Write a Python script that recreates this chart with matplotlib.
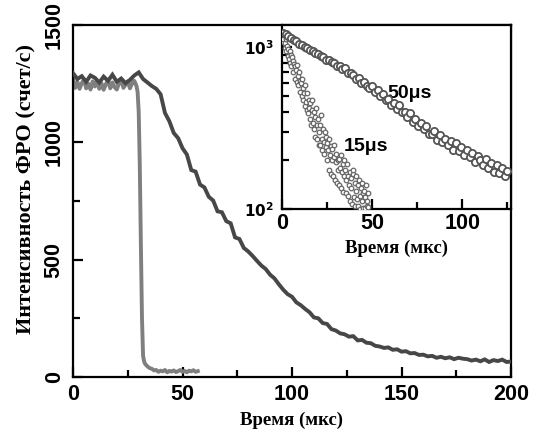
import numpy as np
import matplotlib
matplotlib.use("Agg")
import matplotlib.pyplot as plt
from matplotlib.ticker import MultipleLocator, FixedLocator, NullFormatter

# ---------------- data ----------------
# main plot: dark curve (sampled every 2 us from 0 to 200)
dark_t_step = 2.0
dark_vals = [
    1295, 1270, 1282, 1258, 1285, 1275, 1255, 1280, 1262, 1288,
    1258, 1272, 1252, 1266, 1285, 1298, 1270, 1255, 1240, 1228,
    1205, 1125, 1090, 1040, 1018, 975, 948, 882, 875, 820,
    808, 768, 752, 706, 702, 664, 655, 595, 588, 550,
    535, 516, 495, 475, 460, 436, 420, 395, 372, 353,
    342, 318, 306, 290, 276, 254, 250, 230, 226, 204,
    198, 186, 182, 172, 174, 156, 158, 146, 144, 133,
    130, 124, 126, 116, 118, 108, 110, 101, 102, 94,
    95, 88, 90, 82, 86, 80, 84, 76, 82, 78,
    76, 70, 74, 67, 75, 64, 72, 68, 74, 64,
    66,
]

# main plot: light curve
light_t = [0, 1, 2, 3, 4, 5, 6, 7, 8, 9, 10, 11, 12, 13, 14, 15, 16, 17, 18, 19,
           20, 21, 22, 23, 24, 25, 26, 27, 28, 29, 29.5, 30, 30.5, 31, 31.5, 32,
           32.5, 33, 34, 35, 36, 37, 38, 39, 40, 41, 42, 43, 44, 45, 46, 47, 48,
           49, 50, 51, 52, 53, 54, 55, 56, 57]
light_vals = [1272, 1232, 1258, 1228, 1252, 1268, 1230, 1250, 1225, 1260,
              1238, 1262, 1228, 1252, 1224, 1248, 1265, 1230, 1255, 1235,
              1225, 1252, 1266, 1232, 1246, 1260, 1230, 1252, 1262, 1240,
              1215, 1130, 900, 560, 250, 90, 65, 55, 45, 38,
              35, 28, 30, 22, 27, 24, 30, 20, 26, 23,
              28, 21, 25, 30, 22, 26, 20, 27, 24, 29,
              22, 25]

# inset: 50 us decay (big circles)
i50_t_start, i50_t_step = 0.5, 1.5
i50_vals = [
    1225, 1200, 1165, 1140, 1100, 1085, 1048, 1035, 1000, 990,
    958, 950, 918, 910, 880, 872, 838, 832, 805, 795,
    770, 762, 730, 740, 695, 690, 675, 640, 645, 600,
    612, 575, 560, 572, 528, 540, 500, 510, 470, 475,
    440, 452, 415, 440, 396, 398, 370, 390, 345, 362,
    325, 338, 310, 325, 292, 290, 302, 268, 285, 258,
    272, 250, 262, 232, 255, 228, 240, 215, 232, 210,
    222, 196, 212, 200, 188, 205, 180, 192, 170, 186,
    168, 180, 160, 172,
]

# inset: 15 us decay (small circles)
i15_t_start, i15_t_step = 0.0, 0.35
i15_vals = [
    1210, 1080, 1130, 1190, 990, 1060, 1120, 940, 1010, 880,
    980, 850, 940, 800, 900, 760, 870, 820, 700, 790,
    760, 640, 720, 610, 780, 580, 660, 700, 530, 620,
    600, 500, 640, 470, 560, 520, 430, 580, 460, 410,
    520, 390, 470, 420, 360, 450, 330, 410, 470, 340,
    400, 310, 370, 280, 420, 330, 270, 360, 300, 250,
    330, 250, 380, 270, 230, 310, 260, 220, 300, 240,
    280, 200, 255, 230, 175, 270, 215, 165, 245, 200,
    235, 160, 210, 250, 150, 195, 220, 145, 200, 175,
    205, 140, 180, 215, 135, 170, 190, 128, 160, 200,
    175, 125, 150, 190, 120, 160, 140, 112, 170, 135,
    155, 108, 165, 175, 118, 145, 104, 160, 130, 115,
    140, 105, 150, 120, 100, 135, 112, 145, 102, 125,
    130, 102, 118, 140, 105, 112, 125, 103,
]

main_xticks = [0, 50, 100, 150, 200]
main_yticks = [0, 500, 1000, 1500]
inset_xticks = [0, 50, 100]
inset_yticks = [100, 1000]
inset_yticklabels = [r'$\mathbf{10^{2}}$', r'$\mathbf{10^{3}}$']

xlabel_text = "Время (мкс)"
ylabel_text = "Интенсивность ФРО (счет/с)"
label_50 = "50μs"
label_15 = "15μs"

# ---------------- figure ----------------
W, H = 539, 433
fig = plt.figure(figsize=(W / 100, H / 100), dpi=100)

def px_rect(l, r, t, b):
    return [l / W, (H - b) / H, (r - l) / W, (b - t) / H]

SANS = "Liberation Sans"
SERIF = "Liberation Serif"
spine_w = 1.6
TICK_FS = 15.5

ax = fig.add_axes(px_rect(73, 511, 25, 377))
dark_t = dark_t_step * np.arange(len(dark_vals))
ax.plot(dark_t, dark_vals, color="#474747", lw=2.8, solid_joinstyle="miter", zorder=3)
ax.plot(light_t, light_vals, color="#7f7f7f", lw=2.8, solid_joinstyle="round", zorder=2)

ax.set_xlim(0, 200)
ax.set_ylim(0, 1500)
ax.set_xticks(main_xticks)
ax.set_yticks(main_yticks)
ax.xaxis.set_minor_locator(MultipleLocator(25))
ax.yaxis.set_minor_locator(MultipleLocator(250))
ax.tick_params(which="both", direction="in", width=spine_w, top=False, right=False)
ax.tick_params(which="major", length=7)
ax.tick_params(which="minor", length=5)
ax.tick_params(axis="x", pad=5)
ax.tick_params(axis="y", pad=6)
for lab in ax.get_xticklabels():
    lab.set_fontfamily(SANS); lab.set_fontweight("bold"); lab.set_fontsize(TICK_FS)
for lab in ax.get_yticklabels():
    lab.set_fontfamily(SANS); lab.set_fontweight("bold"); lab.set_fontsize(TICK_FS)
    lab.set_rotation(90); lab.set_va("center")
for s in ax.spines.values():
    s.set_linewidth(spine_w)
ax.set_xlabel(xlabel_text, family=SERIF, weight="bold", fontsize=13.5, labelpad=5)
ax.set_ylabel(ylabel_text, family=SERIF, weight="bold", fontsize=16)
ax.yaxis.set_label_coords(-0.084, 0.535)

# ---------------- inset ----------------
ins = fig.add_axes(px_rect(282, 511, 25, 209))
ins.set_yscale("log")
t15 = i15_t_start + i15_t_step * np.arange(len(i15_vals))
t50 = i50_t_start + i50_t_step * np.arange(len(i50_vals))
ins.plot(t15, i15_vals, ls="none", marker="o", ms=3.3, mfc="white",
         mec="#666666", mew=0.9, zorder=3)
ins.plot(t50, i50_vals, ls="none", marker="o", ms=5.2, mfc="white",
         mec="#555555", mew=1.3, zorder=4)
ins.set_xlim(0, 127)
ins.set_ylim(100, 1370)
ins.set_xticks(inset_xticks)
ins.xaxis.set_minor_locator(MultipleLocator(25))
ins.yaxis.set_major_locator(FixedLocator(inset_yticks))
ins.set_yticklabels(inset_yticklabels)
ins.yaxis.set_minor_locator(FixedLocator([200, 300, 400, 500, 600, 700, 800, 900]))
ins.yaxis.set_minor_formatter(NullFormatter())
ins.tick_params(which="both", direction="in", width=spine_w, top=False, right=False)
ins.tick_params(which="major", length=7)
ins.tick_params(which="minor", length=5)
ins.tick_params(axis="x", pad=3)
ins.tick_params(axis="y", pad=6)
for lab in ins.get_xticklabels():
    lab.set_fontfamily(SANS); lab.set_fontweight("bold"); lab.set_fontsize(TICK_FS)
for lab in ins.get_yticklabels():
    lab.set_fontfamily(SANS); lab.set_fontsize(11)
for s in ins.spines.values():
    s.set_linewidth(spine_w)
ins.set_xlabel(xlabel_text, family=SERIF, weight="bold", fontsize=13.5, labelpad=4)
ins.text(58.5, 520, label_50, family=SANS, weight="bold", fontsize=14,
         ha="left", va="center", transform=ins.transData)
ins.text(34, 245, label_15, family=SANS, weight="bold", fontsize=14,
         ha="left", va="center", transform=ins.transData)

fig.savefig("out.png", dpi=100)
